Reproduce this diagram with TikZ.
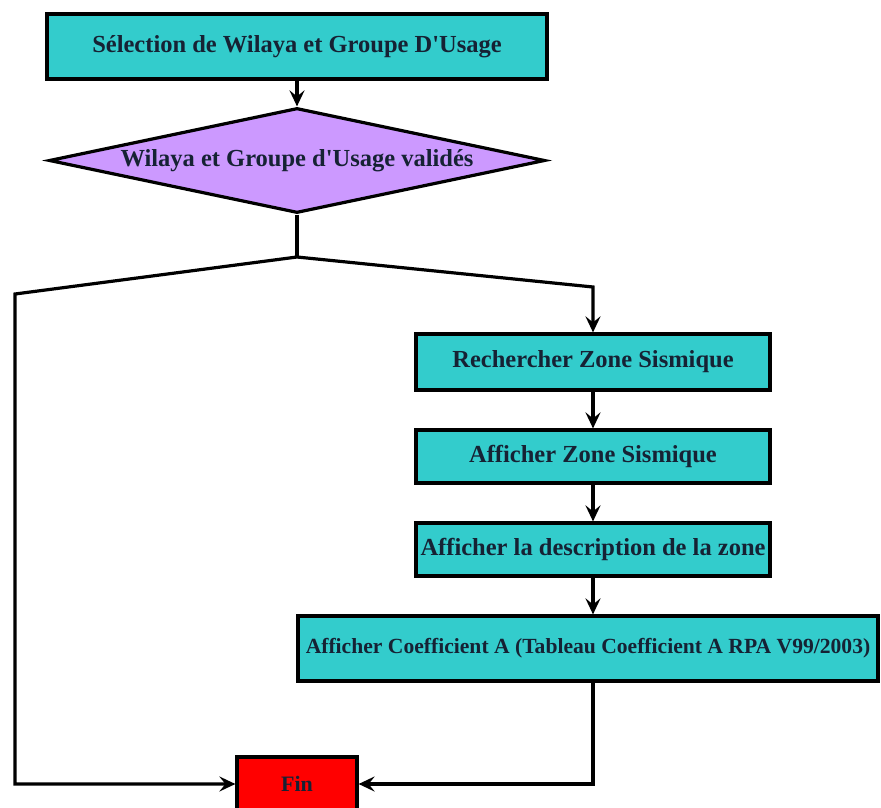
\documentclass[tikz,border=0pt]{standalone}
\usepackage{fontspec}
\setmainfont{Liberation Serif}
\usetikzlibrary{shapes.geometric,arrows.meta}
\definecolor{boxcyan}{RGB}{51,204,204}
\definecolor{diamondpurple}{RGB}{204,153,255}
\definecolor{finred}{RGB}{255,0,0}
\definecolor{txtcol}{RGB}{22,34,52}
\begin{document}
\begin{tikzpicture}[x=1pt,y=-1pt,
  procbox/.style={draw=black, line width=3.2pt, fill=boxcyan, rectangle, inner sep=0pt,
    text=txtcol, font=\bfseries\fontsize{24.5}{28}\selectfont},
  decision/.style={draw=black, line width=3.2pt, fill=diamondpurple, diamond, aspect=4.72, inner sep=0pt,
    text=txtcol, font=\bfseries\fontsize{24.5}{28}\selectfont},
  finbox/.style={draw=black, line width=3.2pt, fill=finred, rectangle, inner sep=0pt,
    text=txtcol, font=\bfseries\fontsize{22}{26}\selectfont},
  conn/.style={line width=3.2pt, draw=black},
  arr/.style={conn, -{Stealth[length=16pt,width=15pt,inset=6pt]}}
]
\useasboundingbox[fill=white] (0,0) rectangle (881,808);

\node[procbox, minimum width=500pt, minimum height=65pt] (sel) at (297,46.5)
  {Sélection de Wilaya et Groupe D\textquotesingle Usage};
\node[decision, minimum width=496pt, minimum height=105pt] (val) at (297,160.5)
  {Wilaya et Groupe d\textquotesingle Usage validés};
\node[procbox, minimum width=354pt, minimum height=56pt] (rech) at (593,362)
  {Rechercher Zone Sismique};
\node[procbox, minimum width=354pt, minimum height=53pt] (aff) at (593,456.5)
  {Afficher Zone Sismique};
\node[procbox, minimum width=354pt, minimum height=53pt] (desc) at (593,549.5)
  {Afficher la description de la zone};
\node[procbox, minimum width=580pt, minimum height=65pt, font=\bfseries\fontsize{21.6}{26}\selectfont] (coef) at (588,648.5)
  {Afficher Coefficient A (Tableau Coefficient A RPA V99/2003)};
\node[finbox, minimum width=120pt, minimum height=54pt] (fin) at (297,784) {Fin};

\coordinate (split) at (297,257);
\coordinate (lcorner) at (15,294);
\coordinate (rcorner) at (593,287);

\draw[arr] (sel.south) -- (val.north);
\draw[conn] (val.south) -- (split);
\draw[arr] (split) -- (lcorner) -- (lcorner |- fin.west) -- (fin.west);
\draw[arr] (split) -- (rcorner) -- (rech.north);
\draw[arr] (rech.south) -- (aff.north);
\draw[arr] (aff.south) -- (desc.north);
\draw[arr] (desc.south) -- (desc.south |- coef.north);
\draw[arr] (coef.south -| desc.south) -- (desc.south |- fin.east) -- (fin.east);
\end{tikzpicture}
\end{document}
